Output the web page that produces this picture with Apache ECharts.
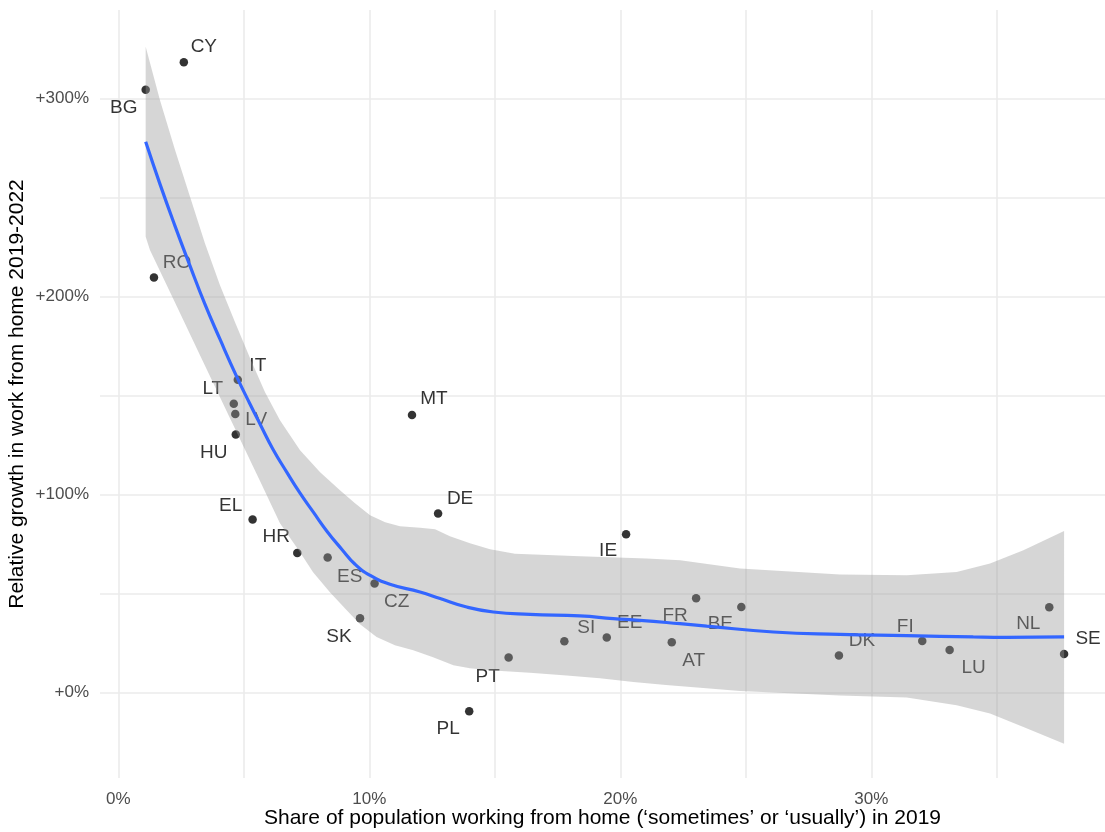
<!DOCTYPE html>
<html>
<head>
<meta charset="utf-8">
<script src="https://cdn.jsdelivr.net/npm/echarts@6/dist/echarts.min.js"></script>
<style>
  html, body { margin: 0; padding: 0; background: #ffffff; }
  #chart { width: 1105px; height: 832px; }
</style>
</head>
<body>
<div id="chart"></div>
<script>
// Country codes (EU member states)
const countries = ['CY','BG','RO','IT','LT','LV','HU','MT','EL','DE','HR','ES','CZ','SK','IE','PT','PL','SI','EE','FR','BE','AT','DK','FI','LU','NL','SE'];
// Share of population working from home in 2019 (%)
const wfhShare2019 = [2.61,1.09,1.42,4.76,4.60,4.66,4.68,11.70,5.35,12.74,7.13,8.34,10.21,9.63,20.23,15.55,13.98,17.77,19.46,23.02,24.82,22.05,28.71,32.03,33.12,37.09,37.68];
// Relative growth in working from home 2019-2022 (%)
const wfhGrowth = [318.2,304.3,209.6,157.9,145.8,140.6,130.3,140.2,87.4,90.4,70.5,68.2,55.1,37.5,79.9,17.7,-9.4,25.9,27.8,47.6,43.2,25.4,18.7,26.1,21.5,43.1,19.5];

// LOESS fit
const fitX = [1.09,1.66,2.26,2.86,3.45,4.05,4.72,5.25,5.65,6.16,6.71,7.24,7.77,8.31,8.90,9.43,10.03,10.82,12.02,12.82,13.88,14.94,16.40,18.39,19.72,20.78,22.38,23.44,26.10,28.75,31.41,34.06,35.39,37.68];
const fitY = [278.1,256.7,235.5,215.3,196.1,178.4,159.4,145.6,135.5,122.9,111.3,100.7,91.1,81.5,72.4,64.8,59.2,54.7,50.8,47.5,43.2,40.7,39.5,38.7,37.4,36.5,34.8,33.6,30.6,29.4,28.8,28.1,27.9,28.1];

// Confidence band of the fit
const bandUpperX = [1.09,1.66,2.26,2.86,3.45,4.05,4.65,5.25,5.84,6.44,7.24,8.04,8.83,9.43,10.03,10.63,11.22,12.02,12.62,13.21,14.01,14.81,15.80,18.39,21.05,22.38,24.77,28.75,31.41,33.40,34.73,36.06,37.68];
const bandUpperY = [326.1,299.1,273.9,250.2,226.9,205.7,187.0,168.8,151.7,137.5,122.4,111.3,102.2,95.6,89.5,86.0,84.0,83.2,82.5,78.9,75.4,72.4,70.1,68.8,67.7,66.8,62.6,59.6,59.2,60.9,65.2,71.9,81.6];
const bandLowerX = [1.09,1.26,2.13,3.25,4.45,5.65,6.44,7.24,7.76,8.43,9.10,9.63,10.29,11.02,11.75,12.54,13.35,14.01,14.94,16.40,17.86,19.19,20.52,21.82,23.18,24.77,28.75,31.41,33.40,34.73,36.06,37.68];
const bandLowerY = [230.1,223.4,200.4,170.4,138.5,106.7,85.5,70.9,60.8,50.7,41.6,34.5,28.1,23.9,21.4,17.8,13.8,12.3,11.2,10.0,8.7,7.2,5.4,3.9,2.5,0.8,-1.4,-2.5,-6.4,-10.6,-17.4,-25.8];

// Tick values
const xGridTicks = [0,5,10,15,20,25,30,35];
const xLabelTicks = [0,10,20,30];
const yGridTicks = [0,50,100,150,200,250,300];
const yLabelTicks = [0,100,200,300];

// Label placement (pixel offsets from each point)
const labelOffsets = {
  CY:[20,-16], BG:[-22,18], RO:[23,-15], IT:[20,-14], LT:[-21,-15], LV:[21,6], HU:[-22,18],
  MT:[22,-16], EL:[-22,-14], DE:[22,-15], HR:[-21,-16], ES:[22,19], CZ:[22,18], SK:[-21,18],
  IE:[-18,16], PT:[-21,19], PL:[-21,18], SI:[22,-14], EE:[23,-15], FR:[-21,17], BE:[-21,17],
  AT:[22,18], DK:[23,-15], FI:[-17,-14], LU:[24,18], NL:[-21,17], SE:[24,-15]
};

const FONT = '"Liberation Sans", Arial, Helvetica, sans-serif';

const points = countries.map((c, i) => ({
  name: c,
  value: [wfhShare2019[i], wfhGrowth[i]],
  label: { offset: labelOffsets[c] }
}));

const fitData = fitX.map((x, i) => [x, fitY[i]]);
const upper = bandUpperX.map((x, i) => [x, bandUpperY[i]]);
const lower = bandLowerX.map((x, i) => [x, bandLowerY[i]]);

const chart = echarts.init(document.getElementById('chart'), null, { renderer: 'canvas' });

chart.setOption({
  backgroundColor: '#ffffff',
  animation: false,
  textStyle: { fontFamily: FONT },
  grid: { left: 100, right: 0, top: 10, bottom: 54, containLabel: false, outerBoundsMode: 'none' },
  xAxis: {
    type: 'value',
    min: -0.73,
    max: 39.31,
    axisLine: { show: false },
    axisTick: { show: false, customValues: xGridTicks },
    axisLabel: {
      customValues: xLabelTicks,
      formatter: v => v + '%',
      color: '#4d4d4d',
      fontSize: 17,
      fontFamily: FONT,
      margin: 13
    },
    splitLine: { show: true, lineStyle: { color: '#ebebeb', width: 1.6 } },
    name: 'Share of population working from home (‘sometimes’ or ‘usually’) in 2019',
    nameLocation: 'middle',
    nameGap: 30,
    nameMoveOverlap: false,
    nameTextStyle: { color: '#000000', fontSize: 21, fontFamily: FONT }
  },
  yAxis: {
    type: 'value',
    min: -43.1,
    max: 344.6,
    axisLine: { show: false },
    axisTick: { show: false, customValues: yGridTicks },
    axisLabel: {
      customValues: yLabelTicks,
      formatter: v => '+' + v + '%',
      color: '#4d4d4d',
      fontSize: 17,
      fontFamily: FONT,
      margin: 11
    },
    splitLine: { show: true, lineStyle: { color: '#ebebeb', width: 1.6 } },
    name: 'Relative growth in work from home 2019-2022',
    nameLocation: 'middle',
    nameGap: 72,
    nameMoveOverlap: false,
    nameTextStyle: { color: '#000000', fontSize: 21, fontFamily: FONT }
  },
  series: [
    {
      type: 'scatter',
      z: 1,
      data: points,
      symbolSize: 8.5,
      itemStyle: { color: '#000000' },
      label: {
        show: true,
        position: 'inside',
        formatter: p => p.name,
        color: '#000000',
        fontSize: 19,
        fontFamily: FONT
      },
      emphasis: { disabled: true }
    },
    {
      type: 'custom',
      z: 2,
      silent: true,
      data: [[0, 0]],
      renderItem: (params, api) => {
        const pts = upper.concat(lower.slice().reverse()).map(p => api.coord(p));
        return {
          type: 'polygon',
          shape: { points: pts },
          style: { fill: 'rgba(153,153,153,0.4)', stroke: null }
        };
      }
    },
    {
      type: 'line',
      z: 3,
      data: fitData,
      smooth: 0.5,
      showSymbol: false,
      symbol: 'none',
      lineStyle: { color: '#3366ff', width: 3.2 },
      emphasis: { disabled: true }
    }
  ]
});
</script>
</body>
</html>
